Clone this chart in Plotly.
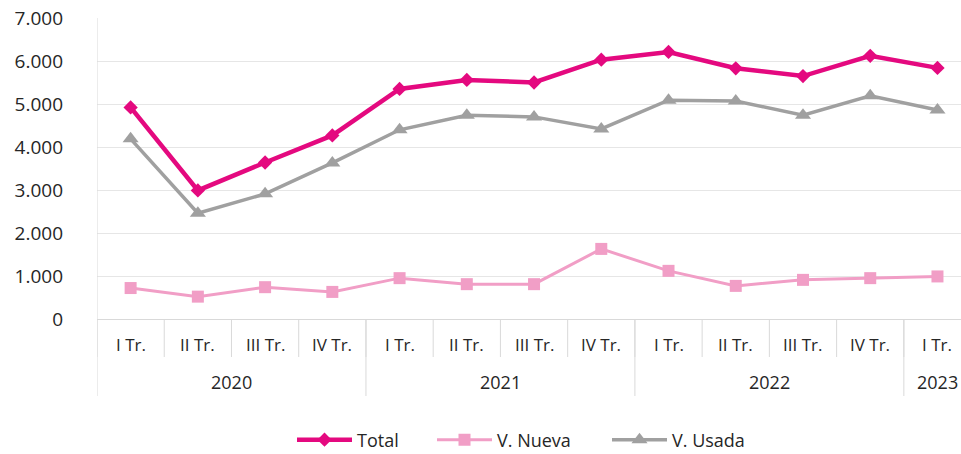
import plotly.graph_objects as go

years = ["2020", "2021", "2022", "2023"]
quarters_per_year = [4, 4, 4, 1]
quarters = ["I Tr.", "II Tr.", "III Tr.", "IV Tr."] * 3 + ["I Tr."]

total = [4920, 2990, 3640, 4270, 5350, 5560, 5500, 6030, 6210, 5830, 5650, 6120, 5840]
nueva = [720, 520, 740, 630, 950, 810, 810, 1630, 1120, 770, 910, 950, 990]
usada = [4190, 2460, 2910, 3630, 4400, 4740, 4700, 4420, 5090, 5070, 4740, 5190, 4860]

FONT = "Open Sans"
TXT = "#262626"
AX = "#D9D9D9"
idx = list(range(len(quarters)))

fig = go.Figure()
fig.add_trace(go.Scatter(x=idx, y=total, name="Total", mode="lines+markers", legend="legend",
                         line=dict(color="#E4097F", width=4.5),
                         marker=dict(symbol="diamond", size=11, color="#E4097F")))
fig.add_trace(go.Scatter(x=idx, y=nueva, name="V. Nueva", mode="lines+markers", legend="legend2",
                         line=dict(color="#F19EC6", width=3),
                         marker=dict(symbol="square", size=12, color="#F19EC6")))
fig.add_trace(go.Scatter(x=idx, y=usada, name="V. Usada", mode="lines+markers", legend="legend3",
                         line=dict(color="#A0A0A0", width=3.5),
                         marker=dict(symbol="triangle-up", size=14, color="#A0A0A0")))

PH = 301.0  # plot height in px
PW = 864.0  # plot width in px
shapes = []
annotations = []
for i, q in enumerate(quarters):
    shapes.append(dict(type="line", xref="x", yref="paper", x0=i - 0.5, x1=i - 0.5,
                       y0=0, y1=-38 / PH, line=dict(color=AX, width=1)))
    annotations.append(dict(x=i, y=-26 / PH, xref="x", yref="paper", text=q,
                            showarrow=False, xanchor="center", yanchor="middle",
                            font=dict(family=FONT, size=17, color=TXT)))
start = 0
for k, (y, n) in enumerate(zip(years, quarters_per_year)):
    shapes.append(dict(type="line", xref="x", yref="paper", x0=start - 0.5, x1=start - 0.5,
                       y0=1 if k == 0 else 0, y1=-77 / PH, line=dict(color=AX, width=1)))
    annotations.append(dict(x=start + (n - 1) / 2, y=-63 / PH, xref="x", yref="paper", text=y,
                            showarrow=False, xanchor="center", yanchor="middle",
                            font=dict(family=FONT, size=18, color=TXT)))
    start += n
shapes.append(dict(type="line", xref="x", yref="paper", x0=start - 0.5, x1=start - 0.5,
                   y0=0, y1=-77 / PH, line=dict(color=AX, width=1)))

def leg(px):
    return dict(orientation="h", x=(px - 97) / PW, xanchor="left", y=-121 / PH, yanchor="middle",
                font=dict(family=FONT, size=18, color=TXT), itemwidth=55,
                bgcolor="rgba(0,0,0,0)")

fig.update_layout(
    width=961, height=454,
    margin=dict(l=97, r=0, t=18, b=135, autoexpand=False),
    paper_bgcolor="white", plot_bgcolor="white",
    separators=",.",
    font=dict(family=FONT, size=17, color=TXT),
    showlegend=True,
    legend=leg(292), legend2=leg(432), legend3=leg(607),
    shapes=shapes,
    annotations=annotations,
)
fig.update_yaxes(range=[0, 7000], dtick=1000, tickformat=",d", automargin=False,
                 showgrid=True, gridcolor="#E6E6E6", gridwidth=1,
                 zeroline=False, showline=False,
                 tickfont=dict(family=FONT, size=19, color=TXT), ticks="", ticklabelstandoff=33)
fig.update_xaxes(range=[-0.5, 12.35], automargin=False,
                 showline=True, linecolor=AX, linewidth=1,
                 showticklabels=False, ticks="", showgrid=False, zeroline=False)

fig.write_html("out.html", config={"displayModeBar": False},
               post_script="document.body.style.margin='0';document.body.style.padding='0';")
